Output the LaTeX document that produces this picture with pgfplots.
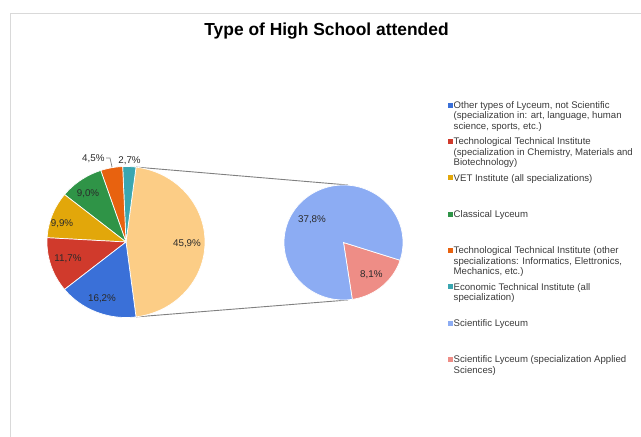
\documentclass[border=0pt]{standalone}
\usepackage{pgfplots}
\pgfplotsset{compat=1.18}
\usepackage{fontspec}
\setmainfont{Liberation Sans}
\definecolor{cBlue}{HTML}{3A70D8}
\definecolor{cRed}{HTML}{D03A2C}
\definecolor{cYellow}{HTML}{E2A70A}
\definecolor{cGreen}{HTML}{2F9447}
\definecolor{cOrange}{HTML}{E8620F}
\definecolor{cTeal}{HTML}{3AA6B0}
\definecolor{cLOrange}{HTML}{FCCD86}
\definecolor{cLBlue}{HTML}{8CACF3}
\definecolor{cSalmon}{HTML}{EE8D86}
\definecolor{cFrame}{HTML}{D9D9D9}
\definecolor{cConn}{HTML}{808080}
\definecolor{cLab}{HTML}{2A2A2A}
\definecolor{cLeg}{HTML}{3A3A3A}
% data (percent)
\def\vBlue{16.2}\def\vRed{11.7}\def\vYellow{9.9}\def\vGreen{9.0}
\def\vOrange{4.5}\def\vTeal{2.7}\def\vSci{37.8}\def\vSciApp{8.1}
\newcommand{\pieslice}[7]{%
  \addplot[draw=white, line width=0.7bp, fill=#1, domain=#6:#7, samples=90, variable=\t]
    ({#2+#4*cos(\t)},{#3+#5*sin(\t)}) -- (axis cs:#2,#3) -- cycle;}
\newcommand{\legline}[3]{\node[anchor=base west, inner sep=0pt, text=cLeg, font=\fontsize{9.6bp}{10.5bp}\selectfont] at (axis cs:#1,#2) {#3};}
\begin{document}
\begin{tikzpicture}
\path[use as bounding box] (0,0) rectangle (641bp,437bp);
\pgfmathsetmacro\vOther{\vSci+\vSciApp}
\pgfmathsetmacro\tot{\vBlue+\vRed+\vYellow+\vGreen+\vOrange+\vTeal+\vOther}
\pgfmathsetmacro\aOne{\vOther/\tot*180}
\pgfmathsetmacro\aMOne{-\aOne}
\pgfmathsetmacro\aTwo{\aOne+\vTeal/\tot*360}
\pgfmathsetmacro\aThree{\aTwo+\vOrange/\tot*360}
\pgfmathsetmacro\aFour{\aThree+\vGreen/\tot*360}
\pgfmathsetmacro\aFive{\aFour+\vYellow/\tot*360}
\pgfmathsetmacro\aSix{\aFive+\vRed/\tot*360}
\pgfmathsetmacro\aSeven{\aSix+\vBlue/\tot*360}
\pgfmathsetmacro\bOne{-81.5}
\pgfmathsetmacro\bTwo{\bOne+\vSciApp/\vOther*360}
\pgfmathsetmacro\bThree{\bOne+360}
\begin{axis}[at={(0,0)}, anchor=south west, scale only axis,
  width=641bp, height=437bp, xmin=0, xmax=641, ymin=0, ymax=437,
  hide axis, clip=false]
% frame
\addplot[cFrame, line width=1.2bp] coordinates {(10.5,0) (10.5,423.5) (641,423.5)};
% connectors
\addplot[cConn, line width=0.9bp] coordinates {(136.1,269.9) (348,252)};
\addplot[cConn, line width=0.9bp] coordinates {(136.1,120.1) (348,137)};
% left pie
\pieslice{cLOrange}{126}{195}{79}{75.5}{\aMOne}{\aOne}
\pieslice{cTeal}{126}{195}{79}{75.5}{\aOne}{\aTwo}
\pieslice{cOrange}{126}{195}{79}{75.5}{\aTwo}{\aThree}
\pieslice{cGreen}{126}{195}{79}{75.5}{\aThree}{\aFour}
\pieslice{cYellow}{126}{195}{79}{75.5}{\aFour}{\aFive}
\pieslice{cRed}{126}{195}{79}{75.5}{\aFive}{\aSix}
\pieslice{cBlue}{126}{195}{79}{75.5}{\aSix}{\aSeven}
% right pie
\pieslice{cSalmon}{343.5}{194.5}{59.5}{57.5}{\bOne}{\bTwo}
\pieslice{cLBlue}{343.5}{194.5}{59.5}{57.5}{\bTwo}{\bThree}
% leader line for 4,5%
\addplot[cConn, line width=0.7bp] coordinates {(106,279) (110,279) (112,270)};
% data labels
\begin{scope}[every node/.style={anchor=base, inner sep=0pt, text=cLab, font=\fontsize{9.8bp}{11bp}\selectfont}]
\node at (axis cs:187,190.5) {45,9\%};
\node at (axis cs:102,135.5) {16,2\%};
\node at (axis cs:68,175.5) {11,7\%};
\node at (axis cs:62,210.5) {9,9\%};
\node at (axis cs:88,240.5) {9,0\%};
\node at (axis cs:93.3,275.5) {4,5\%};
\node at (axis cs:129.5,273.5) {2,7\%};
\node at (axis cs:312,214.2) {37,8\%};
\node at (axis cs:371.3,159.2) {8,1\%};
\end{scope}
% title
\node[anchor=base, inner sep=0pt, font=\fontsize{17.4bp}{20bp}\selectfont\bfseries] at (axis cs:326.5,401) {Type of High School attended};
% legend markers
\addplot[only marks, mark=square*, mark size=2bp, cBlue] coordinates {(450,332)};
\addplot[only marks, mark=square*, mark size=2bp, cRed] coordinates {(450,295.7)};
\addplot[only marks, mark=square*, mark size=2bp, cYellow] coordinates {(450,259.3)};
\addplot[only marks, mark=square*, mark size=2bp, cGreen] coordinates {(450,223)};
\addplot[only marks, mark=square*, mark size=2bp, cOrange] coordinates {(450,186.7)};
\addplot[only marks, mark=square*, mark size=2bp, cTeal] coordinates {(450,150.3)};
\addplot[only marks, mark=square*, mark size=2bp, cLBlue] coordinates {(450,114)};
\addplot[only marks, mark=square*, mark size=2bp, cSalmon] coordinates {(450,77.7)};
% legend text
\legline{453.5}{328.6}{Other types of Lyceum, not Scientific}
\legline{453.5}{318.1}{(specialization in: art, language, human}
\legline{453.5}{307.6}{science, sports, etc.)}
\legline{453.5}{292.3}{Technological Technical Institute}
\legline{453.5}{281.8}{(specialization in Chemistry, Materials and}
\legline{453.5}{271.3}{Biotechnology)}
\legline{453.5}{255.9}{VET Institute (all specializations)}
\legline{453.5}{219.6}{Classical Lyceum}
\legline{453.5}{183.3}{Technological Technical Institute (other}
\legline{453.5}{172.8}{specializations: Informatics, Elettronics,}
\legline{453.5}{162.3}{Mechanics, etc.)}
\legline{453.5}{146.9}{Economic Technical Institute (all}
\legline{453.5}{136.4}{specialization)}
\legline{453.5}{110.6}{Scientific Lyceum}
\legline{453.5}{74.3}{Scientific Lyceum (specialization Applied}
\legline{453.5}{63.8}{Sciences)}
\end{axis}
\end{tikzpicture}
\end{document}
